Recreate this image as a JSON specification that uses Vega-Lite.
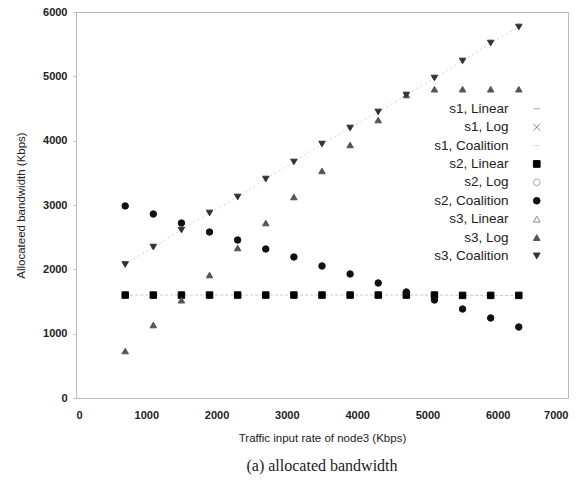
{
  "$schema": "https://vega.github.io/schema/vega-lite/v6.json",
  "width": 492,
  "height": 386,
  "autosize": {"type": "none"},
  "padding": {"left": 76, "top": 12, "right": 18, "bottom": 89},
  "config": {
    "font": "Liberation Sans",
    "view": {"stroke": "#bbb", "strokeWidth": 1},
    "axis": {"grid": false, "domainColor": "#bbb", "tickColor": "#bbb", "tickSize": 3, "labelColor": "#222", "labelFontSize": 11, "labelFontWeight": "bold", "titleColor": "#222", "titleFontSize": 11.5, "titleFontWeight": "normal", "format": "d"}
  },
  "title": {"text": "(a) allocated bandwidth", "orient": "bottom", "font": "Liberation Serif", "fontSize": 16, "fontWeight": "normal", "color": "#222", "offset": 14},
  "data": {"values": [
    {"x": 700, "y": 1600, "series": "s2, Linear"},
    {"x": 1100, "y": 1600, "series": "s2, Linear"},
    {"x": 1500, "y": 1600, "series": "s2, Linear"},
    {"x": 1900, "y": 1600, "series": "s2, Linear"},
    {"x": 2300, "y": 1600, "series": "s2, Linear"},
    {"x": 2700, "y": 1600, "series": "s2, Linear"},
    {"x": 3100, "y": 1600, "series": "s2, Linear"},
    {"x": 3500, "y": 1600, "series": "s2, Linear"},
    {"x": 3900, "y": 1600, "series": "s2, Linear"},
    {"x": 4300, "y": 1600, "series": "s2, Linear"},
    {"x": 4700, "y": 1600, "series": "s2, Linear"},
    {"x": 5100, "y": 1600, "series": "s2, Linear"},
    {"x": 5500, "y": 1595, "series": "s2, Linear"},
    {"x": 5900, "y": 1595, "series": "s2, Linear"},
    {"x": 6300, "y": 1595, "series": "s2, Linear"},
    {"x": 700, "y": 2985, "series": "s2, Coalition"},
    {"x": 1100, "y": 2860, "series": "s2, Coalition"},
    {"x": 1500, "y": 2720, "series": "s2, Coalition"},
    {"x": 1900, "y": 2580, "series": "s2, Coalition"},
    {"x": 2300, "y": 2456, "series": "s2, Coalition"},
    {"x": 2700, "y": 2316, "series": "s2, Coalition"},
    {"x": 3100, "y": 2192, "series": "s2, Coalition"},
    {"x": 3500, "y": 2052, "series": "s2, Coalition"},
    {"x": 3900, "y": 1928, "series": "s2, Coalition"},
    {"x": 4300, "y": 1788, "series": "s2, Coalition"},
    {"x": 4700, "y": 1648, "series": "s2, Coalition"},
    {"x": 5100, "y": 1523, "series": "s2, Coalition"},
    {"x": 5500, "y": 1383, "series": "s2, Coalition"},
    {"x": 5900, "y": 1244, "series": "s2, Coalition"},
    {"x": 6300, "y": 1104, "series": "s2, Coalition"},
    {"x": 700, "y": 730, "series": "s3, Log"},
    {"x": 1100, "y": 1135, "series": "s3, Log"},
    {"x": 1500, "y": 1520, "series": "s3, Log"},
    {"x": 1900, "y": 1912, "series": "s3, Log"},
    {"x": 2300, "y": 2332, "series": "s3, Log"},
    {"x": 2700, "y": 2720, "series": "s3, Log"},
    {"x": 3100, "y": 3125, "series": "s3, Log"},
    {"x": 3500, "y": 3530, "series": "s3, Log"},
    {"x": 3900, "y": 3933, "series": "s3, Log"},
    {"x": 4300, "y": 4321, "series": "s3, Log"},
    {"x": 4700, "y": 4710, "series": "s3, Log"},
    {"x": 5100, "y": 4800, "series": "s3, Log"},
    {"x": 5500, "y": 4800, "series": "s3, Log"},
    {"x": 5900, "y": 4800, "series": "s3, Log"},
    {"x": 6300, "y": 4800, "series": "s3, Log"},
    {"x": 700, "y": 2075, "series": "s3, Coalition"},
    {"x": 1100, "y": 2347, "series": "s3, Coalition"},
    {"x": 1500, "y": 2611, "series": "s3, Coalition"},
    {"x": 1900, "y": 2876, "series": "s3, Coalition"},
    {"x": 2300, "y": 3125, "series": "s3, Coalition"},
    {"x": 2700, "y": 3404, "series": "s3, Coalition"},
    {"x": 3100, "y": 3669, "series": "s3, Coalition"},
    {"x": 3500, "y": 3948, "series": "s3, Coalition"},
    {"x": 3900, "y": 4197, "series": "s3, Coalition"},
    {"x": 4300, "y": 4446, "series": "s3, Coalition"},
    {"x": 4700, "y": 4710, "series": "s3, Coalition"},
    {"x": 5100, "y": 4974, "series": "s3, Coalition"},
    {"x": 5500, "y": 5239, "series": "s3, Coalition"},
    {"x": 5900, "y": 5518, "series": "s3, Coalition"},
    {"x": 6300, "y": 5767, "series": "s3, Coalition"}
  ]},
  "layer": [
    {
      "transform": [{"filter": "datum.series === 's2, Linear'"}],
      "mark": {"type": "line", "stroke": "#c8c8c8", "strokeWidth": 1, "strokeDash": [3, 2]},
      "encoding": {
        "x": {"field": "x", "type": "quantitative"},
        "y": {"field": "y", "type": "quantitative"}
      }
    },
    {
      "transform": [{"filter": "datum.series === 's3, Coalition'"}],
      "mark": {"type": "line", "stroke": "#d0d0d0", "strokeWidth": 1, "strokeDash": [2, 3]},
      "encoding": {
        "x": {"field": "x", "type": "quantitative"},
        "y": {"field": "y", "type": "quantitative"}
      }
    },
    {
      "mark": {"type": "point", "size": 42, "strokeWidth": 1, "opacity": 1},
      "encoding": {
        "x": {"field": "x", "type": "quantitative", "title": "Traffic input rate of node3 (Kbps)",
              "scale": {"domain": [0, 7000], "nice": false},
              "axis": {"values": [0, 1000, 2000, 3000, 4000, 5000, 6000, 7000], "labelPadding": 11, "titlePadding": 12, "ticks": false}},
        "y": {"field": "y", "type": "quantitative", "title": "Allocateed bandwidth (Kbps)",
              "scale": {"domain": [0, 6000], "nice": false},
              "axis": {"values": [0, 1000, 2000, 3000, 4000, 5000, 6000], "labelPadding": 6, "titlePadding": 16}},
        "shape": {"field": "series", "type": "nominal",
          "scale": {"domain": ["s1, Linear", "s1, Log", "s1, Coalition", "s2, Linear", "s2, Log", "s2, Coalition", "s3, Linear", "s3, Log", "s3, Coalition"],
                    "range": ["stroke", "M-1,-1L1,1M1,-1L-1,1", "stroke", "square", "circle", "circle", "triangle-up", "triangle-up", "triangle-down"]},
          "legend": {"title": null, "orient": "none", "legendX": 454, "legendY": 90, "labelAlign": "right", "labelOffset": -35, "labelFontSize": 13.5, "labelColor": "#222", "symbolSize": 45, "rowPadding": 3.4, "padding": 0, "symbolStrokeWidth": 1}},
        "fill": {"field": "series", "type": "nominal",
          "scale": {"domain": ["s1, Linear", "s1, Log", "s1, Coalition", "s2, Linear", "s2, Log", "s2, Coalition", "s3, Linear", "s3, Log", "s3, Coalition"],
                    "range": ["transparent", "transparent", "transparent", "#000000", "#ffffff", "#111111", "#ffffff", "#555555", "#333333"]},
          "legend": {"title": null}},
        "stroke": {"field": "series", "type": "nominal",
          "scale": {"domain": ["s1, Linear", "s1, Log", "s1, Coalition", "s2, Linear", "s2, Log", "s2, Coalition", "s3, Linear", "s3, Log", "s3, Coalition"],
                    "range": ["#aaaaaa", "#888888", "#dddddd", "#000000", "#aaaaaa", "#111111", "#888888", "#555555", "#333333"]},
          "legend": {"title": null}}
      }
    }
  ]
}
